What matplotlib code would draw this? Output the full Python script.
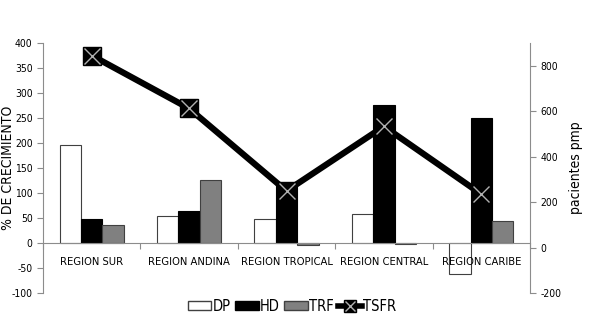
import matplotlib.pyplot as plt
from matplotlib.legend_handler import HandlerTuple
from matplotlib.patches import Patch
from matplotlib.lines import Line2D
import numpy as np

regions = ["REGION SUR", "REGION ANDINA", "REGION TROPICAL", "REGION CENTRAL", "REGION CARIBE"]
dp = [196, 54, 48, 59, -61]
hd = [48, 65, 120, 277, 251]
trf = [37, 126, -3, -1, 44]
tsfr = [845, 612, 249, 533, 235]

plt.rcParams["font.family"] = ["DejaVu Sans"]
plt.rcParams["font.stretch"] = "condensed"
plt.rcParams["axes.unicode_minus"] = False

fig = plt.figure(figsize=(6, 3.33), dpi=100)
ax = fig.add_axes([43 / 600, 40 / 333, 487 / 600, 250 / 333])
ax2 = ax.twinx()

x = np.arange(len(regions))
w = 0.22
ax.bar(x - w, dp, w, color="white", edgecolor="#404040", linewidth=0.8)
ax.bar(x, hd, w, color="black", edgecolor="black", linewidth=0.8)
ax.bar(x + w, trf, w, color="#808080", edgecolor="#404040", linewidth=0.8)

ax2.plot(x, tsfr, color="black", linewidth=4.5, marker="s", markersize=13,
         markerfacecolor="black", markeredgecolor="black", zorder=3)
ax2.plot(x, tsfr, linestyle="none", marker="x", markersize=11,
         markeredgecolor="#b0b0b0", markeredgewidth=1, zorder=4)

ax.set_xlim(-0.5, 4.5)
ax.set_ylim(-100, 400)
ax.set_yticks(range(-100, 401, 50))
ax2.set_ylim(-200, 900)
ax2.set_yticks(range(-200, 801, 200))

gray = "#8c8c8c"
for a in (ax, ax2):
    a.spines["top"].set_visible(False)
    a.spines["left"].set_color(gray)
    a.spines["right"].set_color(gray)
    a.tick_params(axis="y", colors=gray, labelcolor="black", labelsize=7.5, length=4)
ax.spines["right"].set_visible(False)
ax2.spines["left"].set_visible(False)
ax2.spines["bottom"].set_visible(False)
ax.spines["bottom"].set_position(("data", 0))
ax.spines["bottom"].set_color(gray)

ax.set_xticks(np.arange(-0.5, 4.6, 1.0))
ax.set_xticklabels([])
ax.set_xticks(x, minor=True)
ax.set_xticklabels(regions, minor=True)
ax.tick_params(axis="x", which="major", colors=gray, length=4, direction="out")
ax.tick_params(axis="x", which="minor", length=0, pad=10, labelsize=8)

ax.set_ylabel("% DE CRECIMIENTO", fontsize=10)
ax.yaxis.set_label_coords(-0.058, 0.5)
ax2.set_ylabel("pacientes pmp", fontsize=10)
ax2.yaxis.set_label_coords(1.08, 0.5)

# legend handles for the TSFR line (smaller marker than in the plot)
leg_line = Line2D([], [], color="black", linewidth=4, marker="s", markersize=8,
                  markerfacecolor="black", markeredgecolor="black")
leg_x = Line2D([], [], linestyle="none", marker="x", markersize=7,
               markeredgecolor="#b0b0b0", markeredgewidth=1)
handles = [Patch(facecolor="white", edgecolor="#404040"),
           Patch(facecolor="black", edgecolor="black"),
           Patch(facecolor="#808080", edgecolor="#404040"),
           (leg_line, leg_x)]
fig.legend(handles, ["DP", "HD", "TRF", "TSFR"], loc="center", bbox_to_anchor=(0.487, 0.08),
           ncol=4, frameon=False, fontsize=10.5, handlelength=1.6, handleheight=0.6,
           handletextpad=0.1, columnspacing=0.3,
           handler_map={tuple: HandlerTuple(ndivide=1)})

fig.savefig("out.png", dpi=100)
